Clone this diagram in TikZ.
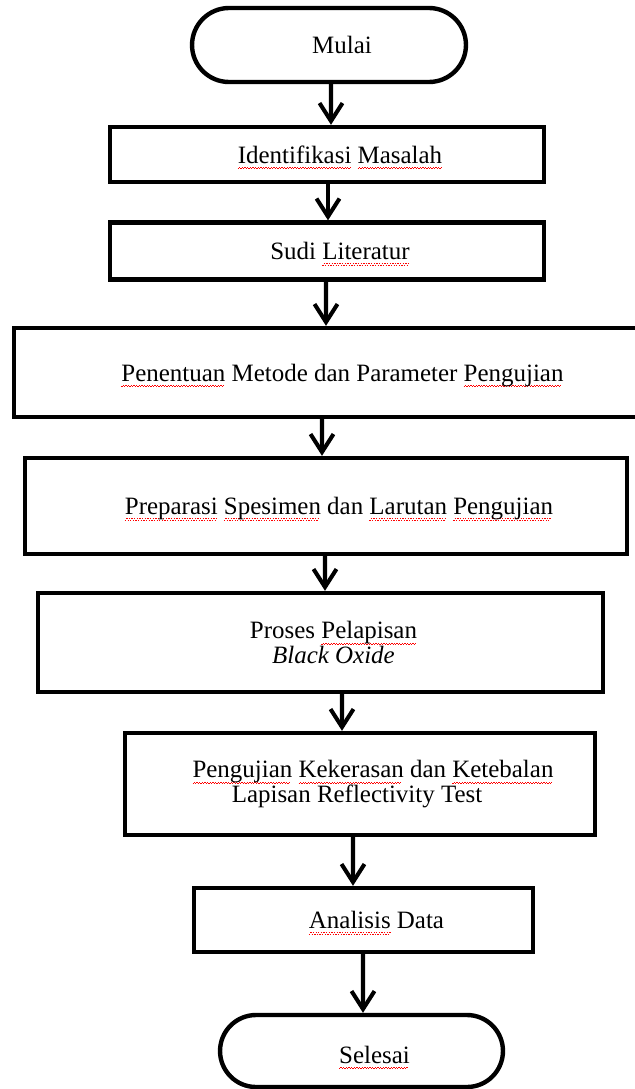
\documentclass[tikz,border=0pt]{standalone}
\usepackage{fontspec}
\setmainfont{Liberation Serif}
\usetikzlibrary{positioning,arrows.meta}

% red wavy underline (spell check marks)
\newsavebox{\katabox}
\newcommand{\salah}[1]{\sbox{\katabox}{#1}\rlap{\color{red}\leaders\hbox{\rule[-3.4pt]{0.75pt}{0.55pt}\rule[-2.8pt]{0.75pt}{0.55pt}}\hskip\wd\katabox}#1}
\newcommand{\geser}{\hspace*{0.52cm}}

\begin{document}
\begin{tikzpicture}[x=0.02cm, y=-0.02cm,
	langkah/.style={shape=rectangle, draw=black, line width=2.5pt, inner sep=2pt,
		font=\fontsize{14.2}{14}\selectfont},
	satu/.style={text height=0.46cm, text depth=0.12cm},
	ujung/.style={langkah, rounded corners=0.72cm},
	panah/.style={line width=2.3pt, -{Straight Barb[length=0.36cm,width=0.46cm]}}]
	\useasboundingbox (0,0) rectangle (635,1089);
	\clip (0,0) rectangle (635,1089);

	% start and steps
	\node [ujung, satu, minimum width=5.48cm, minimum height=1.48cm, rounded corners=0.74cm] (mulai) at (329,45) {\geser Mulai};
	\node [langkah, satu, minimum width=8.68cm, minimum height=1.1cm] (identifikasi) at (327,154.5) {\geser\salah{Identifikasi} \salah{Masalah}};
	\node [langkah, satu, minimum width=8.68cm, minimum height=1.14cm] (literatur) at (327,251) {\geser Sudi \salah{Literatur}};
	\node [langkah, satu, minimum width=12.62cm, minimum height=1.78cm] (metode) at (329.5,372.5) {\geser\salah{Penentuan} Metode dan Parameter \salah{Pengujian}};
	\node [langkah, satu, minimum width=12.04cm, minimum height=1.92cm] (preparasi) at (326,506) {\geser\salah{Preparasi} \salah{Spesimen} dan \salah{Larutan} \salah{Pengujian}};
	\node [langkah, minimum width=11.3cm, minimum height=1.98cm, align=center] (pelapisan) at (320.5,642.5) {\geser Proses \salah{Pelapisan}\\ \geser\textit{Black Oxide}};
	\node [langkah, minimum width=9.4cm, minimum height=2.04cm, align=center] (pengujian) at (360,784) {\geser\salah{Pengujian} \salah{Kekerasan} dan \salah{Ketebalan}\\ Lapisan Reflectivity Test\hspace*{0.12cm}};
	\node [langkah, satu, minimum width=6.78cm, minimum height=1.28cm] (analisis) at (363.5,920) {\geser\salah{Analisis} Data};
	\node [ujung, minimum width=5.66cm, minimum height=1.44cm, text height=0.6cm, text depth=0.12cm] (selesai) at (361.5,1051) {\geser\salah{Selesai}};

	% arrows
	\draw [panah] ([xshift=0.04cm]mulai.south) -- ([xshift=0.08cm]identifikasi.north);
	\draw [panah] ([xshift=0.02cm]identifikasi.south) -- ([xshift=0.02cm]literatur.north);
	\draw [panah] ([xshift=-0.02cm]literatur.south) -- ([xshift=-0.07cm]metode.north);
	\draw [panah] ([xshift=-0.15cm]metode.south) -- ([xshift=-0.08cm]preparasi.north);
	\draw [panah] ([xshift=-0.02cm]preparasi.south) -- ([xshift=0.09cm]pelapisan.north);
	\draw [panah] ([xshift=0.43cm]pelapisan.south) -- ([xshift=-0.36cm]pengujian.north);
	\draw [panah] ([xshift=-0.14cm]pengujian.south) -- ([xshift=-0.21cm]analisis.north);
	\draw [panah] ([xshift=-0.01cm]analisis.south) -- ([xshift=0.03cm]selesai.north);
\end{tikzpicture}
\end{document}
